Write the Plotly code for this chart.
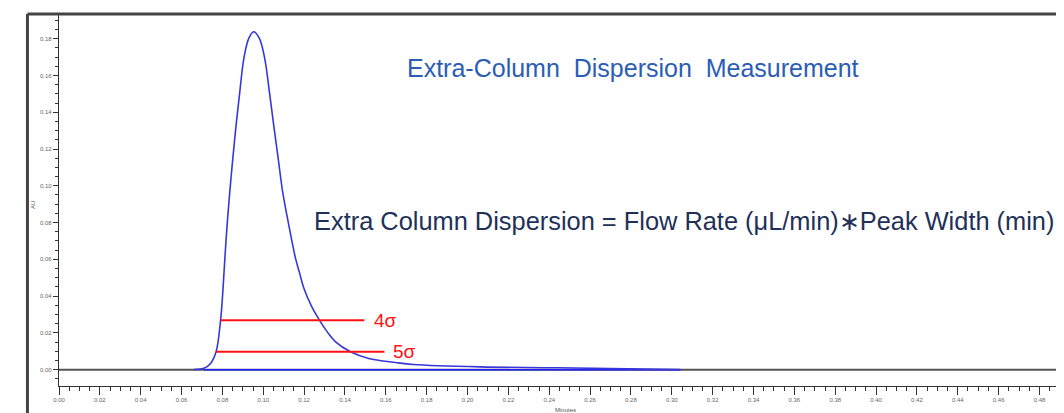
import plotly.graph_objects as go

# ---- data ----
peak_time = [0.0660, 0.0709, 0.0742, 0.0769, 0.0791, 0.0802, 0.0812, 0.0823, 0.0836, 0.0851,
             0.0867, 0.0885, 0.0905, 0.0929, 0.0953, 0.0981, 0.1007, 0.1030, 0.1051, 0.1073,
             0.1095, 0.1125, 0.1158, 0.1178, 0.1198, 0.1236, 0.1275, 0.1314, 0.1354, 0.1427,
             0.1516, 0.1647, 0.1735, 0.2063, 0.2440, 0.3042]
peak_au = [0.0, 0.0007, 0.0034, 0.0097, 0.0269, 0.0423, 0.0605, 0.0786, 0.0967, 0.1149,
           0.1330, 0.1511, 0.1693, 0.1802, 0.1838, 0.1802, 0.1693, 0.1511, 0.1330, 0.1149,
           0.0967, 0.0786, 0.0605, 0.0525, 0.0445, 0.0345, 0.0269, 0.0204, 0.0151, 0.0097,
           0.0061, 0.0039, 0.0028, 0.0015, 0.0010, 0.0]

baseline_time = [0.0, 0.492]
baseline_au = [0.0, 0.0]

integ_time = [0.0709, 0.3042]
integ_au = [0.0, 0.0]

width4_time = [0.0791, 0.1495]
width4_au = [0.0269, 0.0269]
width5_time = [0.0769, 0.1593]
width5_au = [0.0097, 0.0097]

label4 = "4σ"
label5 = "5σ"
title_text = "Extra-Column  Dispersion  Measurement"
formula_text = "Extra Column Dispersion = Flow Rate (μL/min)∗Peak Width (min)"

x_range = [0.0, 0.492]
y_range = [-0.0089, 0.1929]

FONT = "Liberation Sans, Arial, sans-serif"

fig = go.Figure()
fig.add_trace(go.Scatter(x=baseline_time, y=baseline_au, mode="lines",
                         line=dict(color="#555555", width=2), hoverinfo="skip"))
fig.add_trace(go.Scatter(x=integ_time, y=integ_au, mode="lines",
                         line=dict(color="#2020ff", width=1.5), hoverinfo="skip"))
fig.add_trace(go.Scatter(x=peak_time, y=peak_au, mode="lines",
                         line=dict(color="#3838d8", width=1.6, shape="spline", smoothing=1.0)))
fig.add_trace(go.Scatter(x=width4_time, y=width4_au, mode="lines",
                         line=dict(color="#ff1010", width=2)))
fig.add_trace(go.Scatter(x=width5_time, y=width5_au, mode="lines",
                         line=dict(color="#ff1010", width=2)))

annotations = [
    dict(x=width4_time[1] + 0.0035, y=width4_au[0], xref="x", yref="y", text=label4,
         showarrow=False, xanchor="left", yanchor="middle",
         font=dict(family=FONT, size=19, color="#ff1010")),
    dict(x=width5_time[1] + 0.003, y=width5_au[0], xref="x", yref="y", text=label5,
         showarrow=False, xanchor="left", yanchor="middle",
         font=dict(family=FONT, size=19, color="#ff1010")),
    dict(x=0.571, y=0.857, xref="paper", yref="paper", text=title_text,
         showarrow=False, xanchor="center", yanchor="middle",
         font=dict(family=FONT, size=25, color="#2b5db4")),
    dict(x=0.2517, y=0.4447, xref="paper", yref="paper", text=formula_text,
         showarrow=False, xanchor="left", yanchor="middle",
         font=dict(family=FONT, size=25.4, color="#1f3158")),
    dict(x=-0.0259, y=0.488, xref="paper", yref="paper", text="AU", textangle=-90,
         showarrow=False, xanchor="center", yanchor="middle",
         font=dict(family=FONT, size=6, color="#555555")),
    dict(x=0.5035, y=-0.064, xref="paper", yref="paper", text="Minutes",
         showarrow=False, xanchor="center", yanchor="middle",
         font=dict(family=FONT, size=6, color="#555555")),
]

shapes = [
    dict(type="line", xref="paper", yref="paper", x0=-0.0314, x1=1.02, y0=1.0027, y1=1.0027,
         line=dict(color="#444444", width=3)),
    dict(type="line", xref="paper", yref="paper", x0=-0.0314, x1=-0.0314, y0=1.0027, y1=-0.12,
         line=dict(color="#444444", width=3)),
]

# the page body adds an 8px margin, so the figure is 8px smaller and margins shifted
fig.update_layout(
    width=1056, height=405,
    margin=dict(l=51, r=0, t=7, b=27, pad=0),
    paper_bgcolor="white", plot_bgcolor="white",
    showlegend=False,
    annotations=annotations,
    shapes=shapes,
    xaxis=dict(range=x_range, showgrid=False, zeroline=False, showline=True,
               linecolor="#333333", linewidth=1.2, ticks="outside", ticklen=8,
               tickwidth=1, tickcolor="#333333", dtick=0.02, tick0=0, tickformat=".2f",
               tickfont=dict(family=FONT, size=6, color="#666666"),
               minor=dict(dtick=0.005, tick0=0, ticks="outside", ticklen=4,
                          tickcolor="#333333", tickwidth=1, showgrid=False),
               fixedrange=True),
    yaxis=dict(range=y_range, showgrid=False, zeroline=False, showline=True,
               linecolor="#333333", linewidth=1.2, ticks="outside", ticklen=5,
               tickwidth=1, tickcolor="#333333", dtick=0.02, tick0=0, tickformat=".2f",
               tickfont=dict(family=FONT, size=6, color="#666666"),
               minor=dict(dtick=0.005, tick0=0, ticks="outside", ticklen=3,
                          tickcolor="#333333", tickwidth=1, showgrid=False),
               fixedrange=True),
)

fig.write_html("out.html")
